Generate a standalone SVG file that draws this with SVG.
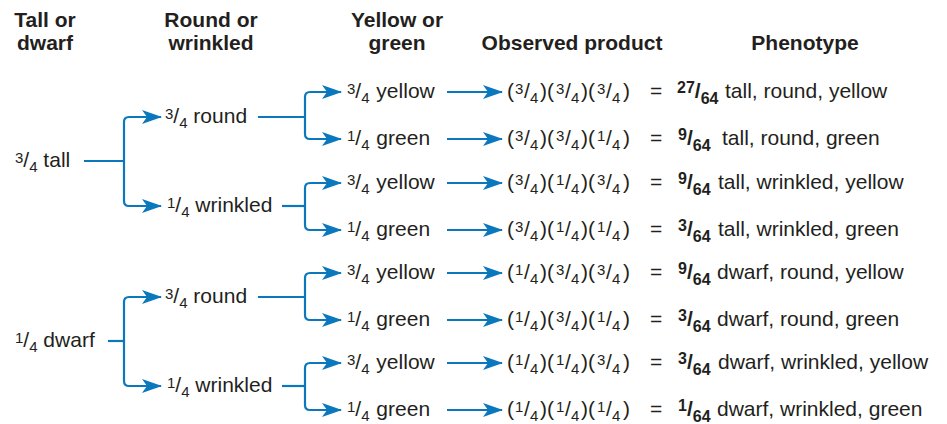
<svg xmlns="http://www.w3.org/2000/svg" width="947" height="424" viewBox="0 0 947 424">
<defs>
<style>
text{font-family:"Liberation Sans",Arial,Helvetica,sans-serif;fill:#231f20;font-size:21px}
.h{font-weight:bold;text-anchor:middle}
.s{font-size:15px}
.sb{font-size:16px;font-weight:bold}
.b{font-weight:bold}
.c{fill:none;stroke:#0b78be;stroke-width:2.2}
.a{marker-end:url(#ah)}
</style>
<marker id="ah" viewBox="0 0 20 14" refX="19" refY="7" markerWidth="20" markerHeight="14" markerUnits="userSpaceOnUse" orient="auto">
<path d="M0,0 L20,7 L0,14 L5,7 Z" fill="#0b78be"/>
</marker>
</defs>
<rect width="947" height="424" fill="#fff"/>

<g id="headers">
<text class="h" x="45" y="27">Tall or</text>
<text class="h" x="45" y="50">dwarf</text>
<text class="h" x="211" y="27">Round or</text>
<text class="h" x="211" y="50">wrinkled</text>
<text class="h" x="397" y="27">Yellow or</text>
<text class="h" x="397" y="50">green</text>
<text class="h" x="572" y="50">Observed product</text>
<text class="h" x="805" y="50">Phenotype</text>
</g>

<g id="connectors">
<path class="c" d="M84,161 H124"/>
<path class="c a" d="M124,161 V122 Q124,117 129,117 H161"/>
<path class="c a" d="M124,161 V201 Q124,206 129,206 H161"/>
<path class="c" d="M108,341 H124"/>
<path class="c a" d="M124,341 V302 Q124,297 129,297 H161"/>
<path class="c a" d="M124,341 V381 Q124,386 129,386 H161"/>
<path class="c" d="M258,117 H305"/>
<path class="c a" d="M305,117 V97 Q305,92 310,92 H341"/>
<path class="c a" d="M305,117 V134 Q305,139 310,139 H341"/>
<path class="c" d="M282,206 H305"/>
<path class="c a" d="M305,206 V188 Q305,183 310,183 H341"/>
<path class="c a" d="M305,206 V225 Q305,230 310,230 H341"/>
<path class="c" d="M258,297 H305"/>
<path class="c a" d="M305,297 V278 Q305,273 310,273 H341"/>
<path class="c a" d="M305,297 V315 Q305,320 310,320 H341"/>
<path class="c" d="M282,386 H305"/>
<path class="c a" d="M305,386 V368 Q305,363 310,363 H341"/>
<path class="c a" d="M305,386 V405 Q305,410 310,410 H341"/>
<path class="c a" d="M447,92 H502"/>
<path class="c a" d="M447,139 H502"/>
<path class="c a" d="M447,183 H502"/>
<path class="c a" d="M447,230 H502"/>
<path class="c a" d="M447,273 H502"/>
<path class="c a" d="M447,320 H502"/>
<path class="c a" d="M447,363 H502"/>
<path class="c a" d="M447,410 H502"/>
</g>

<g id="n-tall"><text x="15" y="167"><tspan class="s" y="163">3</tspan><tspan y="167">/</tspan><tspan class="s" y="172">4</tspan><tspan y="167"> tall</tspan></text></g>
<g id="n-dwarf"><text x="15" y="347"><tspan class="s" y="343">1</tspan><tspan y="347">/</tspan><tspan class="s" y="352">4</tspan><tspan y="347"> dwarf</tspan></text></g>

<g id="n-tall-round"><text x="165" y="123"><tspan class="s" y="119">3</tspan><tspan y="123">/</tspan><tspan class="s" y="128">4</tspan><tspan y="123"> round</tspan></text></g>
<g id="n-tall-wrinkled"><text x="167" y="212"><tspan class="s" y="208">1</tspan><tspan y="212">/</tspan><tspan class="s" y="217">4</tspan><tspan y="212"> wrinkled</tspan></text></g>
<g id="n-dwarf-round"><text x="165" y="303"><tspan class="s" y="299">3</tspan><tspan y="303">/</tspan><tspan class="s" y="308">4</tspan><tspan y="303"> round</tspan></text></g>
<g id="n-dwarf-wrinkled"><text x="167" y="392"><tspan class="s" y="388">1</tspan><tspan y="392">/</tspan><tspan class="s" y="397">4</tspan><tspan y="392"> wrinkled</tspan></text></g>

<g id="n-y1"><text x="347" y="98"><tspan class="s" y="94">3</tspan><tspan y="98">/</tspan><tspan class="s" y="103">4</tspan><tspan y="98" dx="1"> yellow</tspan></text></g>
<g id="n-g1"><text x="347" y="145"><tspan class="s" y="141">1</tspan><tspan y="145">/</tspan><tspan class="s" y="150">4</tspan><tspan y="145" dx="1"> green</tspan></text></g>
<g id="n-y2"><text x="347" y="189"><tspan class="s" y="185">3</tspan><tspan y="189">/</tspan><tspan class="s" y="194">4</tspan><tspan y="189" dx="1"> yellow</tspan></text></g>
<g id="n-g2"><text x="347" y="236"><tspan class="s" y="232">1</tspan><tspan y="236">/</tspan><tspan class="s" y="241">4</tspan><tspan y="236" dx="1"> green</tspan></text></g>
<g id="n-y3"><text x="347" y="279"><tspan class="s" y="275">3</tspan><tspan y="279">/</tspan><tspan class="s" y="284">4</tspan><tspan y="279" dx="1"> yellow</tspan></text></g>
<g id="n-g3"><text x="347" y="326"><tspan class="s" y="322">1</tspan><tspan y="326">/</tspan><tspan class="s" y="331">4</tspan><tspan y="326" dx="1"> green</tspan></text></g>
<g id="n-y4"><text x="347" y="369"><tspan class="s" y="365">3</tspan><tspan y="369">/</tspan><tspan class="s" y="374">4</tspan><tspan y="369" dx="1"> yellow</tspan></text></g>
<g id="n-g4"><text x="347" y="416"><tspan class="s" y="412">1</tspan><tspan y="416">/</tspan><tspan class="s" y="421">4</tspan><tspan y="416" dx="1"> green</tspan></text></g>

<g id="p1"><text y="98"><tspan x="507">(</tspan><tspan x="515" class="s" y="94">3</tspan><tspan x="524" y="98">/</tspan><tspan x="530" class="s" y="103">4</tspan><tspan x="540" y="98">)(</tspan><tspan x="556" class="s" y="94">3</tspan><tspan x="565" y="98">/</tspan><tspan x="571" class="s" y="103">4</tspan><tspan x="581" y="98">)(</tspan><tspan x="597" class="s" y="94">3</tspan><tspan x="606" y="98">/</tspan><tspan x="612" class="s" y="103">4</tspan><tspan x="623" y="98">)</tspan></text></g>
<g id="p2"><text y="145"><tspan x="507">(</tspan><tspan x="515" class="s" y="141">3</tspan><tspan x="524" y="145">/</tspan><tspan x="530" class="s" y="150">4</tspan><tspan x="540" y="145">)(</tspan><tspan x="556" class="s" y="141">3</tspan><tspan x="565" y="145">/</tspan><tspan x="571" class="s" y="150">4</tspan><tspan x="581" y="145">)(</tspan><tspan x="597" class="s" y="141">1</tspan><tspan x="606" y="145">/</tspan><tspan x="612" class="s" y="150">4</tspan><tspan x="623" y="145">)</tspan></text></g>
<g id="p3"><text y="189"><tspan x="507">(</tspan><tspan x="515" class="s" y="185">3</tspan><tspan x="524" y="189">/</tspan><tspan x="530" class="s" y="194">4</tspan><tspan x="540" y="189">)(</tspan><tspan x="556" class="s" y="185">1</tspan><tspan x="565" y="189">/</tspan><tspan x="571" class="s" y="194">4</tspan><tspan x="581" y="189">)(</tspan><tspan x="597" class="s" y="185">3</tspan><tspan x="606" y="189">/</tspan><tspan x="612" class="s" y="194">4</tspan><tspan x="623" y="189">)</tspan></text></g>
<g id="p4"><text y="236"><tspan x="507">(</tspan><tspan x="515" class="s" y="232">3</tspan><tspan x="524" y="236">/</tspan><tspan x="530" class="s" y="241">4</tspan><tspan x="540" y="236">)(</tspan><tspan x="556" class="s" y="232">1</tspan><tspan x="565" y="236">/</tspan><tspan x="571" class="s" y="241">4</tspan><tspan x="581" y="236">)(</tspan><tspan x="597" class="s" y="232">1</tspan><tspan x="606" y="236">/</tspan><tspan x="612" class="s" y="241">4</tspan><tspan x="623" y="236">)</tspan></text></g>
<g id="p5"><text y="279"><tspan x="507">(</tspan><tspan x="515" class="s" y="275">1</tspan><tspan x="524" y="279">/</tspan><tspan x="530" class="s" y="284">4</tspan><tspan x="540" y="279">)(</tspan><tspan x="556" class="s" y="275">3</tspan><tspan x="565" y="279">/</tspan><tspan x="571" class="s" y="284">4</tspan><tspan x="581" y="279">)(</tspan><tspan x="597" class="s" y="275">3</tspan><tspan x="606" y="279">/</tspan><tspan x="612" class="s" y="284">4</tspan><tspan x="623" y="279">)</tspan></text></g>
<g id="p6"><text y="326"><tspan x="507">(</tspan><tspan x="515" class="s" y="322">1</tspan><tspan x="524" y="326">/</tspan><tspan x="530" class="s" y="331">4</tspan><tspan x="540" y="326">)(</tspan><tspan x="556" class="s" y="322">3</tspan><tspan x="565" y="326">/</tspan><tspan x="571" class="s" y="331">4</tspan><tspan x="581" y="326">)(</tspan><tspan x="597" class="s" y="322">1</tspan><tspan x="606" y="326">/</tspan><tspan x="612" class="s" y="331">4</tspan><tspan x="623" y="326">)</tspan></text></g>
<g id="p7"><text y="369"><tspan x="507">(</tspan><tspan x="515" class="s" y="365">1</tspan><tspan x="524" y="369">/</tspan><tspan x="530" class="s" y="374">4</tspan><tspan x="540" y="369">)(</tspan><tspan x="556" class="s" y="365">1</tspan><tspan x="565" y="369">/</tspan><tspan x="571" class="s" y="374">4</tspan><tspan x="581" y="369">)(</tspan><tspan x="597" class="s" y="365">3</tspan><tspan x="606" y="369">/</tspan><tspan x="612" class="s" y="374">4</tspan><tspan x="623" y="369">)</tspan></text></g>
<g id="p8"><text y="416"><tspan x="507">(</tspan><tspan x="515" class="s" y="412">1</tspan><tspan x="524" y="416">/</tspan><tspan x="530" class="s" y="421">4</tspan><tspan x="540" y="416">)(</tspan><tspan x="556" class="s" y="412">1</tspan><tspan x="565" y="416">/</tspan><tspan x="571" class="s" y="421">4</tspan><tspan x="581" y="416">)(</tspan><tspan x="597" class="s" y="412">1</tspan><tspan x="606" y="416">/</tspan><tspan x="612" class="s" y="421">4</tspan><tspan x="623" y="416">)</tspan></text></g>

<g id="f1"><text y="98"><tspan x="650">=</tspan><tspan x="677" class="sb" y="93">27</tspan><tspan class="b" y="98">/</tspan><tspan class="sb" y="104">64</tspan><tspan x="725" y="98">tall, round, yellow</tspan></text></g>
<g id="f2"><text y="145"><tspan x="650">=</tspan><tspan x="678" class="sb" y="140">9</tspan><tspan class="b" y="145">/</tspan><tspan class="sb" y="151">64</tspan><tspan x="722" y="145">tall, round, green</tspan></text></g>
<g id="f3"><text y="189"><tspan x="650">=</tspan><tspan x="678" class="sb" y="184">9</tspan><tspan class="b" y="189">/</tspan><tspan class="sb" y="195">64</tspan><tspan x="718" y="189">tall, wrinkled, yellow</tspan></text></g>
<g id="f4"><text y="236"><tspan x="650">=</tspan><tspan x="678" class="sb" y="231">3</tspan><tspan class="b" y="236">/</tspan><tspan class="sb" y="242">64</tspan><tspan x="718" y="236">tall, wrinkled, green</tspan></text></g>
<g id="f5"><text y="279"><tspan x="650">=</tspan><tspan x="678" class="sb" y="274">9</tspan><tspan class="b" y="279">/</tspan><tspan class="sb" y="285">64</tspan><tspan x="717" y="279">dwarf, round, yellow</tspan></text></g>
<g id="f6"><text y="326"><tspan x="650">=</tspan><tspan x="678" class="sb" y="321">3</tspan><tspan class="b" y="326">/</tspan><tspan class="sb" y="332">64</tspan><tspan x="717" y="326">dwarf, round, green</tspan></text></g>
<g id="f7"><text y="369"><tspan x="650">=</tspan><tspan x="678" class="sb" y="364">3</tspan><tspan class="b" y="369">/</tspan><tspan class="sb" y="375">64</tspan><tspan x="718" y="369">dwarf, wrinkled, yellow</tspan></text></g>
<g id="f8"><text y="416"><tspan x="650">=</tspan><tspan x="678" class="sb" y="411">1</tspan><tspan class="b" y="416">/</tspan><tspan class="sb" y="422">64</tspan><tspan x="717" y="416">dwarf, wrinkled, green</tspan></text></g>
</svg>
